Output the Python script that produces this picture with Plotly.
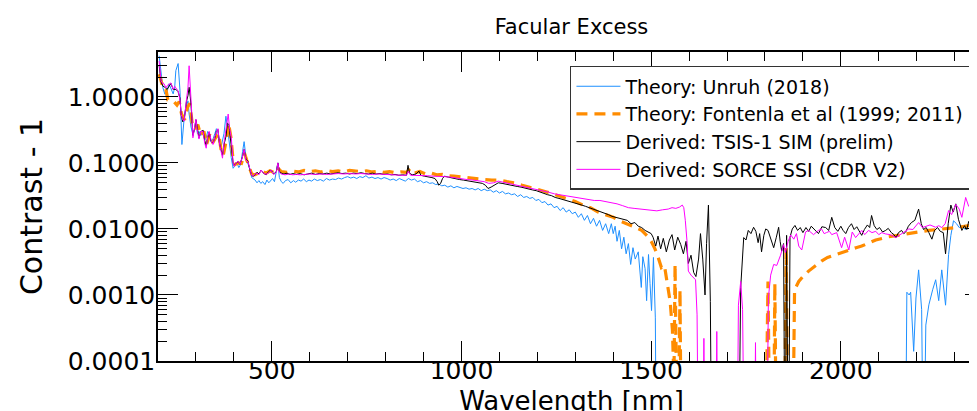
import plotly.graph_objects as go

# ---------------- data ----------------
wl_unruh = [203, 208, 213, 218, 224, 229, 234, 240, 244, 247, 253, 258, 263, 266, 269, 274, 279, 282, 287, 292,
            296, 300, 304, 308, 313, 319, 323, 327, 331, 335, 340, 345, 350, 354, 358, 362, 366, 370, 374, 379,
            383, 387, 393, 398, 403, 408, 413, 418, 423, 427, 432, 437, 442, 447, 451, 456, 461, 466, 471, 476,
            482, 487, 492, 497, 502, 507, 512, 516, 520, 525, 530, 536, 543, 550, 557, 563, 570, 577, 584, 591,
            598, 605, 612, 620, 628, 636, 644, 652, 660, 668, 676, 684, 692, 700, 708, 716, 724, 732, 740, 748,
            756, 764, 772, 780, 788, 796, 804, 812, 820, 828, 836, 844, 852, 860, 868, 876, 884, 892, 900, 908,
            916, 924, 932, 940, 948, 956, 964, 972, 980, 988, 996, 1004, 1012, 1020, 1028, 1036, 1044, 1052, 1060, 1068,
            1076, 1084, 1092, 1100, 1108, 1116, 1124, 1132, 1140, 1148, 1156, 1164, 1172, 1180, 1188, 1196, 1204, 1212, 1220, 1228,
            1236, 1244, 1252, 1260, 1268, 1276, 1284, 1292, 1300, 1308, 1316, 1324, 1332, 1340, 1348, 1356, 1364, 1372, 1380, 1388,
            1395, 1400, 1405, 1410, 1416, 1422, 1428, 1434, 1440, 1446, 1452, 1458, 1466, 1474, 1478, 1484, 1488, 1493, 1497, 1501,
            1506, 1511, 1514, 2170, 2174, 2180, 2184, 2192, 2198, 2205, 2213, 2218, 2224, 2232, 2242, 2250, 2258, 2266, 2276, 2284,
            2290, 2297, 2305, 2312, 2320, 2328, 2337, 2345, 2352, 2358, 2365, 2372, 2380]
c_unruh = [4.2, 2.5, 1.37, 1.1, 1.2, 1.58, 1.3, 1.11, 1.4, 2.5, 3.2, 1.23, 0.19, 0.35, 0.48, 0.7, 0.87, 0.55, 0.35, 0.27,
           0.33, 0.39, 0.28, 0.3, 0.26, 0.31, 0.22, 0.24, 0.3, 0.27, 0.21, 0.23, 0.28, 0.33, 0.3, 0.2, 0.17, 0.21, 0.28, 0.51,
           0.33, 0.2, 0.12, 0.083, 0.09, 0.1, 0.085, 0.095, 0.15, 0.21, 0.12, 0.1, 0.08, 0.06, 0.058, 0.055, 0.05, 0.054, 0.049, 0.052,
           0.047, 0.055, 0.05, 0.053, 0.058, 0.052, 0.07, 0.1, 0.06, 0.052, 0.049, 0.054, 0.056, 0.05, 0.054, 0.051, 0.055, 0.053, 0.057, 0.052,
           0.055, 0.053, 0.057, 0.054, 0.056, 0.053, 0.058, 0.055, 0.057, 0.056, 0.059, 0.057, 0.06, 0.062, 0.059, 0.061, 0.058, 0.062, 0.06, 0.064,
           0.059, 0.061, 0.058, 0.06, 0.057, 0.06, 0.058, 0.055, 0.057, 0.054, 0.058, 0.056, 0.053, 0.058, 0.055, 0.057, 0.052, 0.054, 0.05, 0.052,
           0.049, 0.05, 0.047, 0.048, 0.045, 0.046, 0.043, 0.045, 0.042, 0.044, 0.043, 0.041, 0.042, 0.04, 0.041, 0.039, 0.041, 0.038, 0.04, 0.038,
           0.039, 0.036, 0.038, 0.035, 0.037, 0.034, 0.035, 0.033, 0.034, 0.031, 0.033, 0.03, 0.031, 0.029, 0.03, 0.027, 0.028, 0.025, 0.026, 0.023,
           0.024, 0.021, 0.022, 0.019, 0.021, 0.018, 0.0195, 0.017, 0.018, 0.015, 0.017, 0.0135, 0.016, 0.012, 0.0145, 0.011, 0.0135, 0.0095, 0.012, 0.0085,
           0.012, 0.0085, 0.011, 0.0065, 0.0095, 0.005, 0.0075, 0.0042, 0.006, 0.0029, 0.0052, 0.0035, 0.0045, 0.0013, 0.0038, 0.0025, 0.00082, 0.0041, 0.0015, 0.00058,
           0.0037, 0.00045, 1e-6, 1e-6, 0.0011, 0.001, 0.0011, 0.00014, 0.0009, 0.0024, 0.0006, 1e-6, 0.00035, 0.00071, 0.0012, 0.0017, 0.00082, 0.0024, 0.0007, 0.0041,
           0.008, 0.0133, 0.012, 0.0105, 0.0112, 0.0098, 0.0115, 0.013, 0.011, 0.0125, 0.0095, 0.011, 0.0105]

wl_fontenla = [203, 210, 218, 226, 234, 242, 250, 256, 262, 270, 278, 284, 290, 297, 305, 313, 321, 328, 336, 344,
               352, 360, 366, 372, 380, 386, 392, 398, 404, 412, 420, 428, 434, 440, 447, 455, 465, 475, 485, 495,
               505, 515, 525, 540, 555, 570, 585, 600, 615, 630, 645, 660, 675, 690, 705, 720, 735, 750, 765, 780,
               795, 810, 825, 840, 855, 865, 875, 890, 905, 920, 935, 950, 965, 980, 1000, 1020, 1040, 1060, 1080, 1100,
               1120, 1140, 1160, 1180, 1200, 1220, 1240, 1260, 1280, 1300, 1320, 1340, 1360, 1380, 1400, 1420, 1440, 1460, 1475, 1490,
               1500, 1510, 1518, 1527, 1535, 1542, 1550, 1556, 1560, 1563, 1567, 1570, 1576, 1580, 1800, 1808, 1814, 1822, 1826, 1831,
               1850, 1856, 1861, 1872, 1878, 1889, 1900, 1915, 1934, 1950, 1965, 1986, 2005, 2021, 2040, 2055, 2075, 2092, 2110, 2126,
               2150, 2179, 2205, 2232, 2258, 2284, 2310, 2337, 2360, 2380]
c_fontenla = [2.2, 1.6, 1.58, 0.9, 0.87, 0.85, 0.75, 0.85, 0.55, 0.45, 0.7, 0.8, 0.4, 0.32, 0.38, 0.26, 0.3, 0.19, 0.27, 0.2,
              0.24, 0.28, 0.16, 0.13, 0.22, 0.4, 0.25, 0.11, 0.095, 0.1, 0.098, 0.14, 0.11, 0.09, 0.068, 0.066, 0.07, 0.075, 0.07, 0.076,
              0.072, 0.085, 0.074, 0.072, 0.075, 0.073, 0.077, 0.074, 0.076, 0.073, 0.077, 0.074, 0.076, 0.073, 0.077, 0.075, 0.074, 0.076, 0.073, 0.075,
              0.072, 0.074, 0.071, 0.073, 0.072, 0.082, 0.07, 0.074, 0.068, 0.07, 0.066, 0.067, 0.064, 0.063, 0.061, 0.059, 0.057, 0.056, 0.055, 0.055,
              0.052, 0.05, 0.046, 0.043, 0.04, 0.037, 0.034, 0.031, 0.028, 0.026, 0.023, 0.021, 0.018, 0.0165, 0.015, 0.013, 0.0118, 0.0105, 0.0095, 0.0078,
              0.0065, 0.005, 0.0038, 0.0026, 0.0028, 0.0015, 0.0008, 0.0003, 0.00005, 0.0029, 0.0002, 1e-6, 0.0012, 1e-6, 1e-6, 0.0016, 1e-6, 1e-6, 0.0015, 1e-6,
              1e-6, 0.0052, 1e-6, 1e-6, 0.0012, 0.0016, 0.0019, 0.0023, 0.0028, 0.0033, 0.0037, 0.0041, 0.0045, 0.0048, 0.0052, 0.0055, 0.0062, 0.0068, 0.0072, 0.0076,
              0.008, 0.0084, 0.009, 0.0095, 0.0098, 0.01, 0.0106, 0.0112, 0.0113, 0.0114]

wl_tsis = [203, 208, 213, 218, 224, 229, 234, 240, 247, 253, 258, 261, 265, 269, 275, 279, 282, 285, 287, 292,
           296, 300, 304, 308, 313, 319, 323, 327, 331, 335, 340, 345, 350, 354, 358, 362, 366, 370, 374, 379,
           383, 387, 390, 395, 398, 401, 406, 411, 416, 422, 427, 432, 437, 442, 447, 451, 456, 461, 466, 472,
           478, 485, 492, 498, 505, 512, 516, 520, 525, 532, 540, 548, 556, 565, 575, 585, 595, 605, 615, 625,
           635, 645, 655, 665, 675, 685, 695, 705, 715, 725, 735, 745, 755, 765, 775, 785, 795, 805, 815, 825,
           835, 845, 855, 859, 863, 870, 880, 888, 893, 902, 912, 922, 930, 936, 940, 945, 950, 955, 965, 975,
           985, 995, 1005, 1015, 1025, 1035, 1045, 1055, 1063, 1070, 1078, 1088, 1097, 1107, 1117, 1127, 1137, 1147, 1157, 1167,
           1177, 1187, 1197, 1207, 1217, 1227, 1237, 1247, 1257, 1267, 1277, 1287, 1297, 1307, 1317, 1327, 1337, 1347, 1357, 1367,
           1377, 1387, 1397, 1407, 1417, 1427, 1437, 1447, 1457, 1466, 1475, 1484, 1493, 1500, 1505, 1512, 1518, 1525, 1532, 1540,
           1548, 1555, 1562, 1570, 1578, 1585, 1592, 1598, 1605, 1612, 1618, 1625, 1630, 1636, 1642, 1646, 1651, 1656, 1660, 1730,
           1736, 1744, 1750, 1756, 1763, 1770, 1776, 1782, 1786, 1791, 1797, 1802, 1808, 1815, 1823, 1830, 1836, 1840, 1844, 1849,
           1853, 1857, 1862, 1866, 1872, 1879, 1886, 1893, 1900, 1908, 1915, 1922, 1930, 1941, 1950, 1960, 1968, 1976, 1984, 1992,
           2000, 2006, 2013, 2020, 2028, 2035, 2042, 2048, 2055, 2062, 2070, 2076, 2081, 2088, 2095, 2102, 2110, 2118, 2125, 2133,
           2140, 2145, 2152, 2160, 2166, 2171, 2178, 2186, 2195, 2205, 2212, 2218, 2225, 2232, 2240, 2247, 2255, 2262, 2270, 2276,
           2283, 2290, 2296, 2303, 2310, 2319, 2326, 2332, 2337, 2344, 2350, 2356, 2363, 2369, 2375, 2380]
c_tsis = [3.0, 1.7, 1.45, 1.4, 1.3, 1.45, 1.6, 1.3, 1.3, 1.2, 0.95, 0.55, 0.42, 0.45, 0.85, 1.05, 1.4, 1.0, 0.75, 0.26,
          0.32, 0.45, 0.3, 0.24, 0.3, 0.31, 0.22, 0.18, 0.24, 0.29, 0.21, 0.2, 0.24, 0.3, 0.32, 0.2, 0.16, 0.13, 0.19, 0.25,
          0.4, 0.38, 0.26, 0.14, 0.1, 0.09, 0.1, 0.105, 0.095, 0.12, 0.16, 0.115, 0.105, 0.08, 0.065, 0.062, 0.067, 0.072, 0.068, 0.078,
          0.07, 0.066, 0.074, 0.078, 0.068, 0.074, 0.1, 0.075, 0.07, 0.068, 0.07, 0.067, 0.069, 0.067, 0.069, 0.066, 0.068, 0.07, 0.067, 0.069,
          0.068, 0.07, 0.068, 0.069, 0.071, 0.069, 0.07, 0.068, 0.07, 0.069, 0.071, 0.069, 0.068, 0.07, 0.068, 0.069, 0.067, 0.068, 0.066, 0.067,
          0.065, 0.066, 0.065, 0.092, 0.07, 0.066, 0.068, 0.075, 0.065, 0.063, 0.062, 0.06, 0.058, 0.052, 0.046, 0.049, 0.058, 0.063, 0.061, 0.059,
          0.058, 0.056, 0.055, 0.054, 0.053, 0.052, 0.05, 0.049, 0.046, 0.041, 0.043, 0.047, 0.05, 0.049, 0.048, 0.046, 0.045, 0.044, 0.043, 0.042,
          0.041, 0.039, 0.038, 0.036, 0.035, 0.033, 0.032, 0.03, 0.029, 0.028, 0.027, 0.026, 0.025, 0.024, 0.023, 0.022, 0.021, 0.02, 0.019, 0.0185,
          0.0175, 0.0165, 0.0155, 0.015, 0.0145, 0.014, 0.0135, 0.012, 0.0125, 0.011, 0.0105, 0.0095, 0.009, 0.0085, 0.0075, 0.0055, 0.0078, 0.005, 0.0072, 0.0045,
          0.0068, 0.0082, 0.0048, 0.0075, 0.0058, 0.0042, 0.0065, 0.003, 0.004, 0.0022, 0.0019, 0.0035, 0.0085, 0.0035, 0.001, 0.006, 0.023, 0.0008, 1e-6, 1e-6,
          0.0013, 0.0074, 0.0068, 0.0095, 0.0085, 0.0106, 0.0092, 0.0062, 0.0085, 0.0045, 0.008, 0.01, 0.0095, 0.0072, 0.0052, 0.0075, 0.0106, 0.0065, 0.0046, 0.006,
          1e-6, 0.008, 1e-6, 0.0075, 0.01, 0.0113, 0.0095, 0.0105, 0.0088, 0.0105, 0.0092, 0.011, 0.0098, 0.0085, 0.0108, 0.0105, 0.0095, 0.015, 0.0105, 0.0092,
          0.011, 0.0095, 0.0085, 0.0105, 0.012, 0.0098, 0.0108, 0.0092, 0.008, 0.0098, 0.0115, 0.0105, 0.016, 0.0112, 0.0098, 0.0105, 0.009, 0.0095, 0.0102, 0.0088,
          0.0082, 0.0074, 0.0088, 0.0095, 0.0085, 0.009, 0.011, 0.0125, 0.0135, 0.02, 0.012, 0.0098, 0.0105, 0.0088, 0.007, 0.0095, 0.0105, 0.0092, 0.0088, 0.0042,
          0.012, 0.023, 0.018, 0.024, 0.014, 0.0095, 0.0112, 0.0098, 0.013, 0.0102, 0.0092, 0.0098, 0.0125, 0.011, 0.0105, 0.0098]

wl_sorce = [203, 208, 212, 216, 221, 225, 229, 234, 240, 244, 247, 253, 258, 261, 265, 269, 275, 279, 282, 285,
            287, 290, 292, 296, 300, 304, 308, 313, 319, 323, 327, 331, 335, 340, 345, 350, 354, 358, 362, 366,
            370, 374, 379, 383, 385, 389, 393, 398, 401, 406, 411, 416, 422, 427, 432, 437, 442, 447, 451, 456,
            461, 466, 472, 478, 485, 492, 498, 505, 512, 516, 520, 525, 535, 545, 555, 565, 575, 585, 600, 615,
            630, 645, 660, 675, 690, 705, 720, 735, 750, 765, 780, 795, 810, 825, 840, 855, 860, 866, 880, 895,
            910, 925, 940, 955, 970, 985, 1000, 1015, 1030, 1045, 1060, 1072, 1085, 1097, 1110, 1125, 1140, 1155, 1170, 1185,
            1200, 1215, 1230, 1245, 1260, 1275, 1290, 1305, 1320, 1335, 1350, 1365, 1380, 1395, 1410, 1425, 1440, 1455, 1470, 1485,
            1500, 1515, 1530, 1545, 1555, 1565, 1575, 1582, 1586, 1590, 1595, 1598, 1605, 1612, 1617, 1621, 1625, 1636, 1639, 1642,
            1670, 1673, 1676, 1726, 1730, 1736, 1741, 1746, 1772, 1775, 1778, 1804, 1809, 1815, 1823, 1831, 1841, 1849, 1854, 1861,
            1868, 1876, 1883, 1889, 1897, 1907, 1915, 1928, 1941, 1949, 1956, 1962, 1970, 1976, 1989, 2002, 2010, 2021, 2030, 2039,
            2047, 2055, 2063, 2073, 2082, 2092, 2100, 2108, 2118, 2130, 2145, 2160, 2172, 2179, 2190, 2205, 2215, 2224, 2235, 2250,
            2258, 2266, 2275, 2284, 2292, 2303, 2312, 2319, 2329, 2337, 2345, 2352, 2358, 2365, 2371, 2376, 2380]
c_sorce = [3.5, 1.75, 1.6, 1.58, 1.37, 1.5, 1.55, 1.63, 1.3, 1.45, 1.37, 1.23, 0.9, 0.55, 0.45, 0.43, 0.9, 1.4, 2.96, 1.6,
           0.87, 0.45, 0.24, 0.35, 0.46, 0.3, 0.23, 0.3, 0.3, 0.2, 0.167, 0.25, 0.3, 0.22, 0.19, 0.25, 0.3, 0.33, 0.2, 0.15,
           0.118, 0.2, 0.32, 0.45, 0.55, 0.32, 0.25, 0.1, 0.089, 0.1, 0.106, 0.095, 0.12, 0.16, 0.11, 0.104, 0.078, 0.065, 0.063, 0.068,
           0.07, 0.066, 0.078, 0.07, 0.067, 0.071, 0.078, 0.067, 0.072, 0.1, 0.072, 0.068, 0.066, 0.068, 0.066, 0.067, 0.066, 0.067, 0.068, 0.067,
           0.068, 0.067, 0.068, 0.069, 0.068, 0.069, 0.068, 0.069, 0.068, 0.067, 0.068, 0.067, 0.066, 0.066, 0.065, 0.065, 0.075, 0.065, 0.065, 0.064,
           0.064, 0.063, 0.063, 0.062, 0.061, 0.059, 0.058, 0.056, 0.055, 0.054, 0.052, 0.049, 0.05, 0.053, 0.051, 0.049, 0.047, 0.045, 0.043, 0.041,
           0.04, 0.038, 0.036, 0.034, 0.033, 0.032, 0.031, 0.0295, 0.029, 0.028, 0.027, 0.027, 0.026, 0.025, 0.024, 0.0225, 0.021, 0.0205, 0.02, 0.0195,
           0.019, 0.0188, 0.0195, 0.02, 0.021, 0.0205, 0.0215, 0.023, 0.021, 0.0135, 0.006, 0.0023, 0.002, 0.0018, 0.0017, 0.0005, 1e-6, 1e-6, 0.00022, 1e-6,
           1e-6, 0.00028, 1e-6, 1e-6, 0.0007, 0.0016, 0.0006, 1e-6, 1e-6, 0.00019, 1e-6, 1e-6, 0.0009, 0.002, 0.0029, 0.0028, 0.004, 0.0058, 0.0044, 0.0065,
           0.0081, 0.007, 0.0085, 0.0055, 0.0048, 0.009, 0.0095, 0.0082, 0.0095, 0.01, 0.0085, 0.0088, 0.0092, 0.0082, 0.0088, 0.0052, 0.0075, 0.0048, 0.009, 0.0074,
           0.0085, 0.0095, 0.0082, 0.0095, 0.0088, 0.0092, 0.0082, 0.0088, 0.0084, 0.0082, 0.0074, 0.0085, 0.0092, 0.01, 0.0098, 0.0125, 0.0105, 0.011, 0.0115, 0.0106,
           0.0112, 0.0105, 0.012, 0.019, 0.0165, 0.0236, 0.02, 0.015, 0.03, 0.022, 0.02, 0.027, 0.036, 0.026, 0.025, 0.031, 0.03]

names = ["Theory: Unruh (2018)", "Theory: Fontenla et al (1999; 2011)",
         "Derived: TSIS-1 SIM (prelim)", "Derived: SORCE SSI (CDR V2)"]

y_tickvals = [1e-4, 1e-3, 1e-2, 1e-1, 1.0]
y_ticktext = ["0.0001", "0.0010", "0.0100", "0.1000", "1.0000"]

# ---------------- figure ----------------
fig = go.Figure()
fig.add_trace(go.Scatter(x=wl_unruh, y=c_unruh, mode="lines", name=names[0],
                         line=dict(color="#1E90FF", width=1)))
fig.add_trace(go.Scatter(x=wl_fontenla, y=c_fontenla, mode="lines", name=names[1],
                         line=dict(color="#FF8C00", width=3.2, dash="11px,7px")))
fig.add_trace(go.Scatter(x=wl_tsis, y=c_tsis, mode="lines", name=names[2],
                         line=dict(color="black", width=1)))
fig.add_trace(go.Scatter(x=wl_sorce, y=c_sorce, mode="lines", name=names[3],
                         line=dict(color="#FF00FF", width=1)))

tickfont = dict(family="DejaVu Sans", size=25, color="black")

fig.update_layout(
    width=977, height=411,
    margin=dict(l=150, r=0, t=44, b=58, autoexpand=False),
    paper_bgcolor="white", plot_bgcolor="white",
    title=dict(text="Facular Excess", xref="paper", x=0.5, xanchor="center",
               yref="container", y=0.955, yanchor="middle", automargin=False,
               font=dict(family="DejaVu Sans", size=21, color="black")),
    showlegend=True,
    legend=dict(x=0.983, xanchor="right", y=0.955, yanchor="top", itemwidth=44,
                bgcolor="white", bordercolor="#333333", borderwidth=1.5,
                font=dict(family="DejaVu Sans", size=19, color="black")),
)

fig.update_xaxes(
    range=[200, 2380], showgrid=False, zeroline=False, automargin=False,
    showline=True, linecolor="black", linewidth=1.5, mirror="allticks",
    ticks="inside", ticklen=20, tickwidth=1.3, tickcolor="black",
    tick0=0, dtick=500, tickfont=tickfont, ticklabelstandoff=-14,
    minor=dict(ticks="inside", ticklen=9, tickwidth=1, tickcolor="black", dtick=100, tick0=0, showgrid=False),
    title=dict(text="Wavelength [nm]", font=dict(family="DejaVu Sans", size=26, color="black"), standoff=8),
)
fig.update_yaxes(
    type="log", range=[-4, 0.68], showgrid=False, zeroline=False, automargin=False,
    showline=True, linecolor="black", linewidth=1.5, mirror="allticks",
    ticks="inside", ticklen=20, tickwidth=1.3, tickcolor="black",
    tickvals=y_tickvals, ticktext=y_ticktext, tickfont=tickfont, ticklabelstandoff=-4,
    minor=dict(ticks="inside", ticklen=9, tickwidth=1, tickcolor="black", dtick="D1", showgrid=False),
    title=dict(text="Contrast - 1", font=dict(family="DejaVu Sans", size=30, color="black"), standoff=16),
)

fig.write_html("out.html")
